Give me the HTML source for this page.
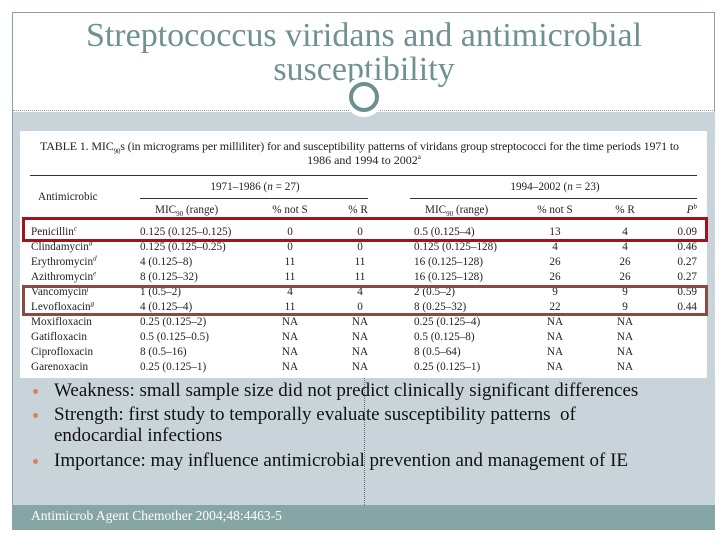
<!DOCTYPE html>
<html><head><meta charset="utf-8"><style>
body{margin:0;width:728px;height:546px;background:#fff;position:relative;overflow:hidden;font-family:"Liberation Serif",serif}
.a{position:absolute;white-space:nowrap}
.t{font-size:11.2px;color:#222;line-height:14px}
.c{transform:translateX(-50%)}
.r{transform:translateX(-100%)}
.b{font-size:19px;color:#111;line-height:21px}
sup,sub{line-height:0;font-size:7px}
.dot{position:absolute;left:33px;width:5px;height:5px;border-radius:50%;background:#d9825f}
</style></head><body>
<div class="a" style="left:12px;top:12px;width:703px;height:518px;border:1px solid #8aa0a0;box-sizing:border-box"></div>
<div class="a" style="left:12px;top:19px;width:704px;text-align:center;font-size:34px;line-height:34px;color:#6f9191;white-space:normal">Streptococcus viridans and antimicrobial<br>susceptibility</div>
<div class="a" style="left:13px;top:110px;width:702px;border-top:1px dotted #8aa0a0"></div>
<div class="a" style="left:13px;top:112px;width:702px;height:393px;background:#c8d3da"></div>
<div class="a" style="left:344px;top:77px;width:40px;height:40px;border-radius:50%;background:#fff"></div>
<div class="a" style="left:349px;top:82px;width:22px;height:22px;border-radius:50%;border:4px solid #6e8f8f"></div>
<div class="a" style="left:13px;top:505px;width:702px;height:25px;background:#86a5a5"></div>
<div class="a" style="left:31px;top:508px;font-size:13.5px;color:#fff">Antimicrob Agent Chemother 2004;48:4463-5</div>

<div class="a" style="left:20px;top:131px;width:687px;height:247px;background:#fff"></div>
<div class="a t" style="left:40px;top:139px;font-size:12px;letter-spacing:-0.15px">TABLE 1. MIC<sub>90</sub>s (in micrograms per milliliter) for and susceptibility patterns of viridans group streptococci for the time periods 1971 to</div>
<div class="a t c" style="left:364px;top:153px;font-size:12px">1986 and 1994 to 2002<sup>a</sup></div>
<div class="a" style="left:30px;top:175px;width:667px;border-top:1px solid #333"></div>
<div class="a" style="left:140px;top:198px;width:228px;border-top:1px solid #333"></div>
<div class="a" style="left:410px;top:198px;width:287px;border-top:1px solid #333"></div>
<div class="a" style="left:30px;top:219px;width:667px;border-top:1px solid #333"></div>
<div class="a t" style="left:38px;top:190px">Antimicrobic</div>
<div class="a t c" style="left:255px;top:180px">1971–1986 (<i>n</i> = 27)</div>
<div class="a t c" style="left:555px;top:180px">1994–2002 (<i>n</i> = 23)</div>
<div class="a t" style="left:155px;top:203px">MIC<sub>90</sub> (range)</div>
<div class="a t c" style="left:290px;top:203px">% not S</div>
<div class="a t c" style="left:358px;top:203px">% R</div>
<div class="a t" style="left:425px;top:203px">MIC<sub>90</sub> (range)</div>
<div class="a t c" style="left:555px;top:203px">% not S</div>
<div class="a t c" style="left:625px;top:203px">% R</div>
<div class="a t r" style="left:697px;top:203px"><i>P</i><sup>b</sup></div>
<div id="rows"></div>

<div class="a" style="left:22px;top:217px;width:686px;height:25px;border:3px solid #a0141c;box-sizing:border-box"></div>
<div class="a" style="left:22px;top:285px;width:686px;height:31px;border:3px solid #8b4a3f;box-sizing:border-box"></div>
<div class="a" style="left:364px;top:378px;height:127px;border-left:1px dotted #667"></div>

<div class="dot" style="top:389px"></div>
<div class="a b" style="left:54px;top:380px">Weakness: small sample size did not predict clinically significant differences</div>
<div class="dot" style="top:413px"></div>
<div class="a b" style="left:54px;top:404px">Strength: first study to temporally evaluate susceptibility patterns&nbsp; of<br>endocardial infections</div>
<div class="dot" style="top:459px"></div>
<div class="a b" style="left:54px;top:450px">Importance: may influence antimicrobial prevention and management of IE</div>

<script>
const drugs=["Penicillin","Clindamycin","Erythromycin","Azithromycin","Vancomycin","Levofloxacin","Moxifloxacin","Gatifloxacin","Ciprofloxacin","Garenoxacin"];
const sup=["c","d","d","e","f","g","","","",""];
const mic1=["0.125 (0.125–0.125)","0.125 (0.125–0.25)","4 (0.125–8)","8 (0.125–32)","1 (0.5–2)","4 (0.125–4)","0.25 (0.125–2)","0.5 (0.125–0.5)","8 (0.5–16)","0.25 (0.125–1)"];
const notS1=["0","0","11","11","4","11","NA","NA","NA","NA"];
const r1=["0","0","11","11","4","0","NA","NA","NA","NA"];
const mic2=["0.5 (0.125–4)","0.125 (0.125–128)","16 (0.125–128)","16 (0.125–128)","2 (0.5–2)","8 (0.25–32)","0.25 (0.125–4)","0.5 (0.125–8)","8 (0.5–64)","0.25 (0.125–1)"];
const notS2=["13","4","26","26","9","22","NA","NA","NA","NA"];
const r2=["4","4","26","26","9","9","NA","NA","NA","NA"];
const pv=["0.09","0.46","0.27","0.27","0.59","0.44","","","",""];
const host=document.getElementById('rows');
function cell(txt,x,y,cls,name){
  const d=document.createElement('div');
  d.className='a t '+cls;
  d.style.left=x+'px';d.style.top=y+'px';
  d.innerHTML=txt;
  
  
  host.appendChild(d);
}
drugs.forEach((g,i)=>{
  const y=225+i*15;
  cell(g+(sup[i]?'<sup><i>'+sup[i]+'</i></sup>':''),31,y,'','drug-name');
  cell(mic1[i],140,y,'','mic-1971');
  cell(notS1[i],290,y,'c','not-s-1971');
  cell(r1[i],360,y,'c','r-1971');
  cell(mic2[i],414,y,'','mic-1994');
  cell(notS2[i],555,y,'c','not-s-1994');
  cell(r2[i],625,y,'c','r-1994');
  if(pv[i]) cell(pv[i],697,y,'r','p-value');
});
</script>
</body></html>
